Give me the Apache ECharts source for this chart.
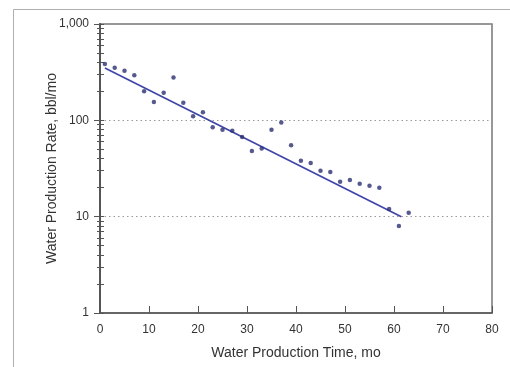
<!DOCTYPE html>
<html>
<head>
<meta charset="utf-8">
<script src="https://cdn.jsdelivr.net/npm/echarts@6/dist/echarts.min.js"></script>
<style>
  html, body { margin: 0; padding: 0; background: #fff; }
  #chart { width: 510px; height: 367px; }
</style>
</head>
<body>
<div id="chart"></div>
<script>
// Monthly water production history (time in months, rate in bbl/mo)
const months = [1, 3, 5, 7, 9, 11, 13, 15, 17, 19, 21, 23, 25, 27, 29, 31,
                33, 35, 37, 39, 41, 43, 45, 47, 49, 51, 53, 55, 57, 59, 61, 63];
const rates = [385, 352, 328, 294, 200, 155, 193, 278, 152, 110, 121, 85, 80, 78, 67, 48,
               51, 80, 95, 55, 38, 36, 30, 29, 23, 24, 22, 21, 20, 12, 8, 11];

// Exponential decline fit, end points [month, rate]
const fitLine = [[1, 350], [61.5, 10]];

// Axis ticks
const xTicks = [0, 10, 20, 30, 40, 50, 60, 70, 80];
const yMajor = [1, 10, 100, 1000];
const yMinor = [2, 3, 4, 5, 6, 7, 8, 9, 20, 30, 40, 50, 60, 70, 80, 90,
                200, 300, 400, 500, 600, 700, 800, 900];

const font = '"Liberation Sans", Arial, Helvetica, sans-serif';
const axisColor = '#555';

const baseY = {
  type: 'log',
  logBase: 10,
  min: 1,
  max: 1000,
  position: 'left',
  axisLine: { show: true, onZero: false, lineStyle: { color: axisColor, width: 1.5 } },
  splitLine: { show: false },
  axisLabel: { show: false },
  axisTick: { show: false }
};

const chart = echarts.init(document.getElementById('chart'), null, { renderer: 'canvas' });
chart.setOption({
  animation: false,
  backgroundColor: '#fff',
  graphic: [{
    type: 'rect',
    shape: { x: 13.5, y: 9.5, width: 620, height: 420 },
    style: { fill: 'none', stroke: '#b0b0b0', lineWidth: 1 },
    silent: true,
    z: -10
  }],
  grid: {
    left: 100, right: 18, top: 24, bottom: 54,
    show: true, borderColor: '#777', borderWidth: 1.5, backgroundColor: 'transparent'
  },
  xAxis: {
    type: 'value',
    min: 0, max: 80, interval: 10,
    name: 'Water Production Time, mo',
    nameLocation: 'middle',
    nameGap: 33,
    nameMoveOverlap: false,
    nameTextStyle: { fontFamily: font, fontSize: 14, color: '#333' },
    axisLine: { show: true, onZero: false, lineStyle: { color: axisColor, width: 1.5 } },
    axisTick: { show: true, inside: true, length: 7, lineStyle: { color: axisColor } },
    axisLabel: {
      fontFamily: font, fontSize: 12, color: '#333', margin: 11,
      customValues: xTicks
    },
    splitLine: { show: false }
  },
  yAxis: [
    Object.assign({}, baseY, {
      name: 'Water Production Rate, bbl/mo',
      nameLocation: 'middle',
      nameGap: 41,
      nameMoveOverlap: false,
      nameTextStyle: { fontFamily: font, fontSize: 14, color: '#333' },
      axisLabel: {
        show: true, fontFamily: font, fontSize: 12, color: '#333', margin: 11,
        customValues: yMajor,
        formatter: v => Math.round(v).toLocaleString('en-US')
      },
      axisTick: { show: true, inside: false, length: 6, customValues: yMajor, lineStyle: { color: axisColor } },
      splitLine: { show: true, lineStyle: { color: '#999', type: [1.5, 3], width: 1 } }
    }),
    Object.assign({}, baseY, {
      axisTick: { show: true, inside: true, length: 4, customValues: yMajor.concat(yMinor), lineStyle: { color: axisColor } }
    }),
    Object.assign({}, baseY, {
      axisTick: { show: true, inside: false, length: 3, customValues: yMinor, lineStyle: { color: axisColor } }
    })
  ],
  series: [
    {
      type: 'line',
      data: fitLine,
      showSymbol: false,
      symbol: 'none',
      lineStyle: { color: '#3d44a8', width: 1.6 },
      z: 2
    },
    {
      type: 'scatter',
      data: months.map((m, i) => [m, rates[i]]),
      symbol: 'circle',
      symbolSize: 4.5,
      itemStyle: { color: '#2b2f72' },
      z: 3
    }
  ]
});
</script>
</body>
</html>
